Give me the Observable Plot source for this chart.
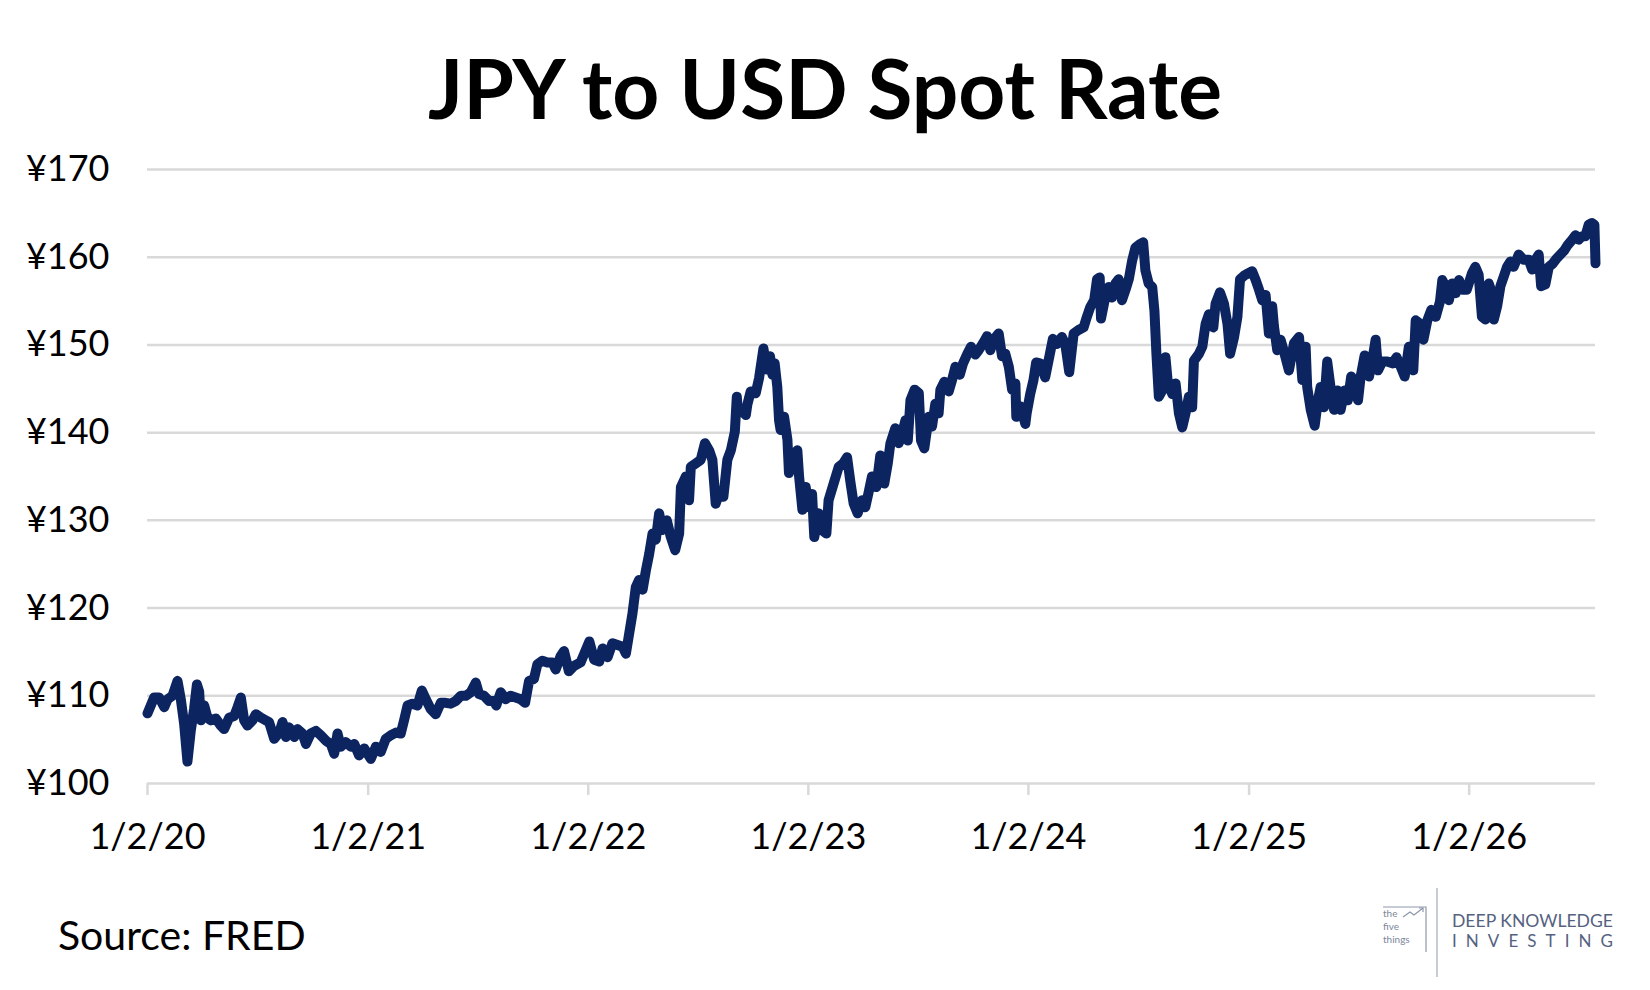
<!DOCTYPE html>
<html>
<head>
<meta charset="utf-8">
<script src="https://cdn.jsdelivr.net/npm/d3@7"></script>
<script src="https://cdn.jsdelivr.net/npm/@observablehq/plot@0.6"></script>
<style>
  html, body { margin: 0; padding: 0; background: #fff; }
  #wrap { position: relative; width: 1650px; height: 990px; overflow: hidden; background: #fff; font-family: Lato, "Open Sans", sans-serif; }
  #title { position: absolute; left: 0; top: 46px; width: 1650px; text-align: center; font-weight: 700; font-size: 82px; line-height: 82px; color: #000; }
  #chart { position: absolute; left: 0; top: 140px; }
  #source { position: absolute; left: 58px; top: 914px; font-size: 41px; line-height: 41px; color: #000; }
  #logo { position: absolute; left: 1370px; top: 880px; }
</style>
</head>
<body>
<div id="wrap">
  <div id="title">JPY to USD Spot Rate</div>
  <div id="chart"></div>
  <div id="source">Source: FRED</div>
  <svg id="logo" width="260" height="110" viewBox="0 0 260 110">
    <g fill="#7d879b" font-family="Lato, sans-serif" font-size="10">
      <text x="13" y="37">the</text>
      <text x="13" y="50">five</text>
      <text x="13" y="63">things</text>
    </g>
    <g fill="none" stroke="#8d97ab" stroke-width="1.2">
      <path d="M13 27 H56 V72"/>
      <path d="M33 37 L40 32 L44 35 L53 28"/>
      <path d="M49 28 H53 V32"/>
    </g>
    <line x1="67" y1="8" x2="67" y2="97" stroke="#b3bac8" stroke-width="1.5"/>
    <text x="82" y="47" font-family="Lato, sans-serif" font-size="18" fill="#55627f" textLength="161" lengthAdjust="spacingAndGlyphs">DEEP KNOWLEDGE</text>
    <text x="82" y="67" font-family="Lato, sans-serif" font-size="17" fill="#55627f" textLength="161" lengthAdjust="spacing">INVESTING</text>
  </svg>
</div>
<script>
const frac2020 = [0.000,0.030,0.053,0.076,0.091,0.113,0.136,0.151,0.166,0.181,0.196,0.211,0.224,0.234,0.242,0.257,0.272,0.287,0.310,0.332,0.347,0.370,0.393,0.408,0.423,0.438,0.453,0.476,0.491,0.514,0.536,0.551,0.574,0.597,0.612,0.627,0.642,0.665,0.680,0.702,0.718,0.740,0.763,0.785,0.808,0.831,0.846,0.861,0.876,0.899,0.921,0.937,0.959,0.982];
const rate2020 = [108.0,109.8,109.8,108.7,109.6,110.0,111.7,109.6,106.8,102.5,106.0,108.5,111.3,110.5,107.2,108.9,107.5,107.2,107.4,106.6,106.2,107.5,107.7,108.7,109.8,107.2,106.6,107.2,107.9,107.5,107.2,107.0,105.1,105.8,107.0,105.3,106.4,105.3,106.2,105.7,104.5,105.7,106.0,105.5,104.9,104.5,103.4,105.7,104.2,104.7,104.2,104.5,103.2,104.0];

const frac2021 = [0.012,0.035,0.057,0.080,0.103,0.126,0.148,0.163,0.179,0.201,0.224,0.244,0.262,0.284,0.307,0.330,0.352,0.375,0.398,0.421,0.443,0.466,0.489,0.504,0.526,0.549,0.572,0.582,0.602,0.625,0.647,0.670,0.693,0.713,0.731,0.753,0.769,0.791,0.814,0.837,0.852,0.874,0.890,0.912,0.935,0.965,0.980];
const rate2021 = [102.8,104.2,103.6,105.1,105.5,105.8,105.7,107.2,108.9,109.1,108.9,110.6,109.6,108.5,107.9,109.2,109.2,109.1,109.4,110.0,110.0,110.4,111.5,110.2,110.0,109.4,109.4,108.9,110.4,109.6,110.0,109.8,109.6,109.2,111.7,111.9,113.6,114.0,113.8,113.8,113.0,114.5,115.1,112.8,113.4,113.8,114.7];

const frac2022 = [0.005,0.027,0.050,0.065,0.088,0.110,0.133,0.156,0.171,0.186,0.201,0.216,0.231,0.247,0.262,0.277,0.292,0.307,0.322,0.337,0.357,0.375,0.395,0.413,0.421,0.443,0.458,0.466,0.489,0.511,0.530,0.549,0.564,0.579,0.595,0.614,0.632,0.648,0.666,0.675,0.678,0.693,0.716,0.723,0.738,0.761,0.776,0.796,0.811,0.826,0.837,0.847,0.859,0.867,0.874,0.890,0.905,0.912,0.927,0.950,0.958,0.973,0.988];
const rate2022 = [116.2,114.1,113.9,115.4,114.4,116.0,115.8,115.6,114.8,117.1,119.4,122.4,123.2,122.1,124.3,126.2,128.5,127.8,130.8,128.9,130.0,128.1,126.6,128.5,133.8,135.0,132.3,136.1,136.5,136.9,138.8,138.0,136.9,131.9,133.1,132.7,136.9,138.0,140.1,144.1,143.0,142.6,142.0,143.2,144.7,144.5,146.2,149.6,147.2,148.7,146.6,147.9,145.2,141.4,140.3,141.8,139.2,135.4,136.9,138.0,135.0,131.2,133.8];

const frac2023 = [0.002,0.017,0.027,0.047,0.062,0.082,0.092,0.115,0.138,0.158,0.176,0.191,0.206,0.224,0.244,0.259,0.274,0.289,0.309,0.327,0.345,0.361,0.373,0.395,0.411,0.426,0.441,0.452,0.464,0.483,0.502,0.512,0.527,0.547,0.562,0.577,0.592,0.600,0.618,0.638,0.653,0.668,0.688,0.703,0.721,0.739,0.759,0.774,0.794,0.812,0.827,0.842,0.865,0.880,0.895,0.911,0.926,0.941,0.945,0.964,0.986,0.992];
const rate2023 = [131.5,133.0,128.1,130.8,128.9,128.5,132.3,134.2,136.1,136.5,137.2,134.4,131.9,130.8,132.3,131.5,133.2,135.0,133.8,137.4,134.2,136.5,138.8,140.5,138.8,139.9,141.4,139.1,143.7,144.9,144.5,139.1,138.2,141.8,140.7,143.3,142.2,144.9,145.8,144.7,146.0,147.5,146.6,147.9,148.9,149.8,148.9,149.4,150.2,151.0,149.4,150.6,151.3,148.7,149.0,147.5,144.9,145.6,141.8,143.0,141.0,142.2];

const frac2024 = [0.008,0.023,0.035,0.053,0.076,0.091,0.111,0.129,0.152,0.167,0.185,0.205,0.227,0.250,0.265,0.280,0.298,0.311,0.323,0.329,0.348,0.364,0.379,0.394,0.409,0.424,0.444,0.455,0.470,0.485,0.505,0.520,0.530,0.545,0.561,0.571,0.580,0.591,0.606,0.621,0.632,0.652,0.667,0.682,0.697,0.712,0.727,0.742,0.750,0.773,0.788,0.803,0.818,0.838,0.848,0.868,0.886,0.902,0.914,0.932,0.947,0.959,0.977,0.984];
const rate2024 = [144.4,146.0,148.0,147.9,146.3,148.2,150.7,150.1,150.9,150.1,146.9,151.3,151.7,152.0,153.2,154.3,155.1,157.5,157.7,153.0,155.4,156.6,155.4,157.0,157.5,155.1,156.6,157.5,159.6,161.1,161.5,161.7,158.5,157.0,156.6,153.9,149.0,144.1,144.8,148.6,145.6,144.4,145.6,142.2,140.6,142.2,144.1,142.9,148.2,149.0,149.8,152.4,153.5,152.0,154.7,156.0,154.7,152.4,149.0,150.9,153.2,157.5,157.9,158.0];

const frac2025 = [0.014,0.030,0.045,0.060,0.075,0.090,0.105,0.113,0.128,0.143,0.161,0.181,0.204,0.227,0.242,0.257,0.264,0.280,0.298,0.313,0.325,0.340,0.355,0.370,0.386,0.401,0.416,0.434,0.449,0.464,0.484,0.495,0.507,0.525,0.545,0.560,0.575,0.586,0.605,0.628,0.651,0.670,0.689,0.707,0.726,0.746,0.757,0.772,0.792,0.810,0.828,0.848,0.867,0.878,0.893,0.908,0.923,0.939,0.954,0.969,0.989];
const rate2025 = [158.4,157.4,156.3,155.1,155.7,151.3,154.4,152.1,149.4,150.6,149.0,147.1,150.2,150.9,146.0,149.8,145.2,142.6,140.8,143.7,145.2,142.9,148.1,145.2,142.6,144.8,142.6,144.8,143.7,146.4,145.6,143.7,146.4,148.8,146.4,148.3,150.6,147.1,148.1,148.1,147.9,148.6,147.5,146.4,149.8,147.1,152.8,152.5,150.6,152.8,154.0,153.2,154.9,157.4,156.6,155.1,157.0,155.9,157.4,156.3,156.3];

const frac2026 = [0.013,0.028,0.043,0.058,0.074,0.089,0.104,0.112,0.127,0.142,0.157,0.172,0.187,0.202,0.225,0.248,0.271,0.286,0.301,0.316,0.327,0.346,0.362,0.381,0.399,0.414,0.433,0.448,0.468,0.483,0.498,0.513,0.528,0.543,0.558,0.569,0.574];
const rate2026 = [158.2,158.9,158.0,153.2,152.9,157.0,155.9,152.9,154.4,156.7,157.8,158.9,159.5,158.9,160.3,159.7,159.7,158.6,159.7,160.3,156.7,156.9,158.9,159.3,159.9,160.3,160.8,161.4,162.0,162.5,162.0,162.4,162.4,163.7,163.9,163.7,159.3];

const yearStarts = [2020, 2021, 2022, 2023, 2024, 2025, 2026];
const tickLabels = ["1/2/20","1/2/21","1/2/22","1/2/23","1/2/24","1/2/25","1/2/26"];
const yTicks = [100, 110, 120, 130, 140, 150, 160, 170];

// ---- build table ----
const fracs = [frac2020, frac2021, frac2022, frac2023, frac2024, frac2025, frac2026];
const rates = [rate2020, rate2021, rate2022, rate2023, rate2024, rate2025, rate2026];
const jan2 = y => Date.UTC(y, 0, 2);
const data = [];
yearStarts.forEach((y, k) => {
  const span = jan2(y + 1) - jan2(y);
  fracs[k].forEach((f, i) => data.push({date: new Date(jan2(y) + f * span), rate: rates[k][i]}));
});
const xTicks = yearStarts.map(y => new Date(jan2(y)));
const labelOf = new Map(xTicks.map((d, i) => [+d, tickLabels[i]]));

const chart = Plot.plot({
  width: 1650,
  height: 730,
  marginTop: 29,
  marginBottom: 87,
  marginLeft: 147,
  marginRight: 55,
  style: {fontFamily: "Lato, 'Open Sans', sans-serif", fontSize: "36px", color: "#000", background: "transparent"},
  x: {type: "utc", domain: [xTicks[0], d3.max(data, d => d.date)]},
  y: {domain: [100, 170]},
  marks: [
    Plot.gridY(yTicks, {stroke: "#d9d9d9", strokeOpacity: 1, strokeWidth: 2.5}),
    Plot.axisY(yTicks, {tickSize: 0, tickPadding: 38, tickFormat: d => "¥" + d, label: null, fill: "#000"}),
    Plot.axisX(xTicks, {tickSize: 12, tickPadding: 28, tickFormat: d => labelOf.get(+d), label: null, stroke: "#d9d9d9", strokeWidth: 2.5, fill: "#000"}),
    Plot.line(data, {x: "date", y: "rate", stroke: "#0c2561", strokeWidth: 10, strokeLinejoin: "round", strokeLinecap: "round"})
  ]
});
document.getElementById("chart").appendChild(chart);
</script>
</body>
</html>
